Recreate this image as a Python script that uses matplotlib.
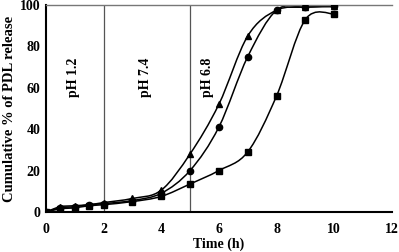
import matplotlib
matplotlib.use("Agg")
import matplotlib.pyplot as plt
import numpy as np
from matplotlib.path import Path
from matplotlib.patches import PathPatch

time_h = [0, 0.5, 1, 1.5, 2, 3, 4, 5, 6, 7, 8, 9, 10]
release_tri = [0, 2.5, 3, 3.5, 4.5, 6.5, 10.5, 28, 52, 85, 97.5, 99, 99.3]
release_circ = [0, 2, 2.5, 3.5, 4, 5.5, 9, 20, 41, 75, 97.5, 99, 99.3]
release_sq = [0, 1.5, 2, 3, 3.5, 5, 7.5, 13.5, 20, 29, 56, 93, 95.7]

phase_bounds = [2, 5]
phase_labels = ["pH 1.2", "pH 7.4", "pH 6.8"]
label_x = [0.95, 3.45, 5.6]

plt.rcParams["font.family"] = ["Liberation Serif", "DejaVu Serif"]
plt.rcParams["font.weight"] = "bold"


def smooth_path(x, y):
    # Catmull-Rom style smoothing expressed as cubic Bezier segments
    pts = np.column_stack([x, y]).astype(float)
    ext = np.vstack([pts[0], pts, pts[-1]])
    verts = [pts[0]]
    codes = [Path.MOVETO]
    for i in range(1, len(ext) - 2):
        p0, p1, p2, p3 = ext[i - 1], ext[i], ext[i + 1], ext[i + 2]
        c1 = p1 + (p2 - p0) / 6.0
        c2 = p2 - (p3 - p1) / 6.0
        verts += [c1, c2, p2]
        codes += [Path.CURVE4] * 3
    return Path(verts, codes)


fig = plt.figure(figsize=(3.99, 2.52), dpi=100)
ax = fig.add_axes([0.115, 0.159, 0.867, 0.821])

for b in phase_bounds:
    ax.plot([b, b], [0, 100], color="#555555", lw=0.9, zorder=1)

for ys, mk in [(release_sq, "s"), (release_circ, "o"), (release_tri, "^")]:
    ax.add_patch(PathPatch(smooth_path(time_h, ys), fill=False, ec="black", lw=1.1, zorder=2))
    ax.plot(time_h, ys, ls="none", marker=mk, ms=4.5, color="black", zorder=3)

for lx, lab in zip(label_x, phase_labels):
    ax.text(lx, 65, lab, rotation=90, ha="center", va="center", fontsize=10, fontweight="bold")

ax.set_xlim(0, 12)
ax.set_ylim(0, 100)
ax.set_xticks(range(0, 13, 2))
ax.set_yticks(range(0, 101, 20))
ax.tick_params(axis="both", labelsize=10, length=0)
ax.tick_params(axis="x", pad=8)
ax.tick_params(axis="y", pad=4)
ax.spines["right"].set_visible(False)
ax.spines["top"].set_color("#777777")
ax.spines["top"].set_linewidth(1.0)
ax.spines["left"].set_linewidth(1.5)
ax.spines["bottom"].set_linewidth(1.5)
ax.set_xlabel("Time (h)", fontsize=10, fontweight="bold", labelpad=1)
ax.set_ylabel("Cumulative % of PDL release", fontsize=10.5, fontweight="bold", labelpad=3)

fig.savefig("out.png", dpi=100)
